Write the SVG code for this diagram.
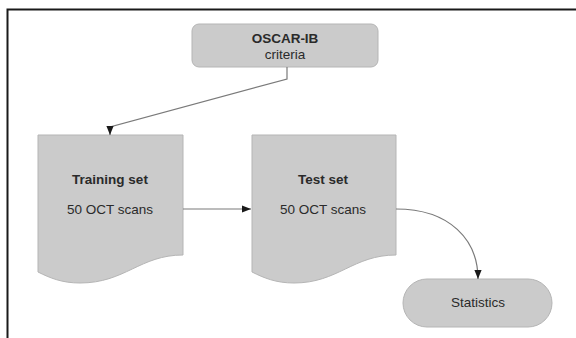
<svg xmlns="http://www.w3.org/2000/svg" width="576" height="338" viewBox="0 0 576 338">
<defs>
<style>
.shape{fill:#cbcbcb;stroke:#b5b5b5;stroke-width:1}
.t{font-family:"Liberation Sans",Arial,sans-serif;font-size:13.5px;fill:#2a2a2a;text-anchor:middle}
.b{font-weight:bold}
.conn{fill:none;stroke:#7a7a7a;stroke-width:1.2}
</style>
<marker id="arr" viewBox="0 0 10 10" refX="10" refY="5" markerWidth="9" markerHeight="9" markerUnits="userSpaceOnUse" orient="auto">
<path d="M0,1 L10,5 L0,9 Z" fill="#1a1a1a"/>
</marker>
</defs>
<rect width="576" height="338" fill="#ffffff"/>
<path d="M7.5,338 V9.5 H576" fill="none" stroke="#1a1a1a" stroke-width="2"/>
<g id="oscar">
<rect class="shape" x="192" y="24" width="186" height="43" rx="7"/>
<text class="t b" x="285" y="43">OSCAR-IB</text>
<text class="t" x="285" y="59">criteria</text>
</g>
<g id="training">
<path class="shape" d="M38,135 H183 V255 C140,255 125,283 80,283 C62,283 50,278 38,272 Z"/>
<text class="t b" x="110" y="184">Training set</text>
<text class="t" x="110" y="214">50 OCT scans</text>
</g>
<g id="test">
<path class="shape" d="M252,135 H396 V255 C353,255 338,283 294,283 C276,283 264,278 252,272 Z"/>
<text class="t b" x="323" y="184">Test set</text>
<text class="t" x="323" y="214">50 OCT scans</text>
</g>
<g id="statistics">
<rect class="shape" x="403" y="279" width="149" height="48" rx="24"/>
<text class="t" x="478" y="307">Statistics</text>
</g>
<g id="connectors">
<path class="conn" d="M287,67 V79 L110,127 V135" marker-end="url(#arr)"/>
<path class="conn" d="M183,209 H251" marker-end="url(#arr)"/>
<path class="conn" d="M396,209 C450,209 478,240 478,279" marker-end="url(#arr)"/>
</g>
</svg>
